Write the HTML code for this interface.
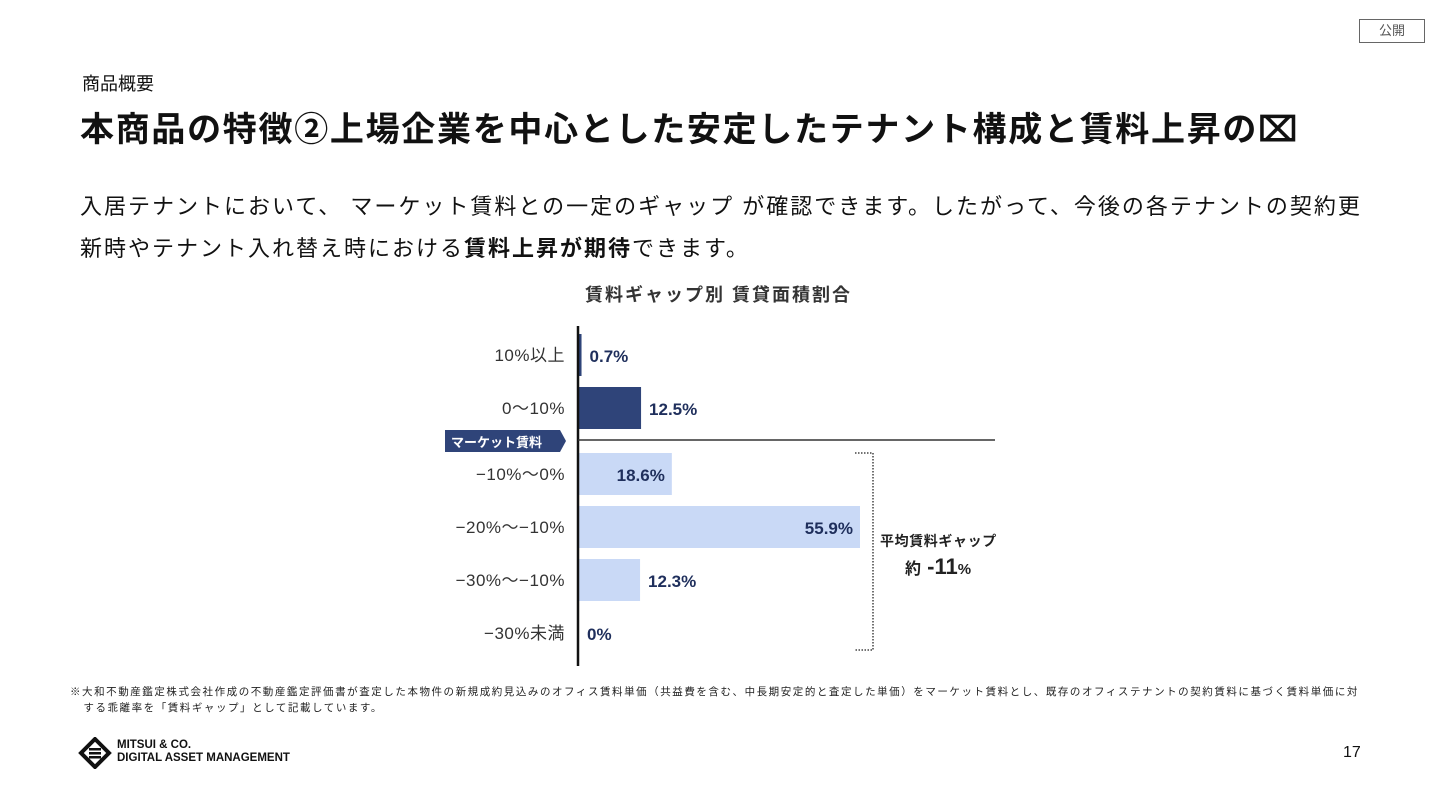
<!DOCTYPE html>
<html><head><meta charset="utf-8">
<style>
body{margin:0;width:1440px;height:810px;background:#fff;font-family:"Liberation Sans","Noto Sans CJK JP",sans-serif;color:#111;position:relative;overflow:hidden}
.a{position:absolute;white-space:nowrap}
</style></head><body>
<div class="a" style="left:1359px;top:19px;width:64px;height:22px;border:1.5px solid #666;font-size:13px;color:#555;text-align:center;line-height:22px">公開</div>
<div class="a" style="left:82px;top:70px;font-size:18px">商品概要</div>
<div class="a" style="left:80px;top:102px;font-size:34px;font-weight:bold;letter-spacing:1.7px">本商品の特徴②上場企業を中心とした安定したテナント構成と賃料上昇の&#x2327;</div>
<div class="a" style="left:80px;top:186px;font-size:22px;line-height:42px;letter-spacing:2px">入居テナントにおいて、 マーケット賃料との一定のギャップ が確認できます。したがって、今後の各テナントの契約更<br>新時やテナント入れ替え時における<b>賃料上昇が期待</b>できます。</div>
<div class="a" style="left:585px;top:281px;font-size:18px;font-weight:bold;color:#333;letter-spacing:2px">賃料ギャップ別 賃貸面積割合</div>
<svg class="a" id="chart" style="left:0;top:0" width="1440" height="810"></svg>
<div class="a" style="left:70px;top:684px;font-size:10.5px;line-height:16px;color:#222;letter-spacing:1.55px">※大和不動産鑑定株式会社作成の不動産鑑定評価書が査定した本物件の新規成約見込みのオフィス賃料単価（共益費を含む、中長期安定的と査定した単価）をマーケット賃料とし、既存のオフィステナントの契約賃料に基づく賃料単価に対<br>&nbsp;&nbsp;&nbsp;する乖離率を「賃料ギャップ」として記載しています。</div>
<svg class="a" style="left:78px;top:737px" width="34" height="32" viewBox="0 0 34 32"><path d="M17 2 L31 16 L17 30 L3 16Z" fill="none" stroke="#111" stroke-width="4"/><rect x="11" y="11" width="12" height="2.5" fill="#111"/><rect x="11" y="15" width="12" height="2.5" fill="#111"/><rect x="11" y="19" width="12" height="2.5" fill="#111"/></svg>
<div class="a" style="left:117px;top:739px;font-size:11.5px;font-weight:bold;line-height:13px">MITSUI &amp; CO.<br>DIGITAL ASSET MANAGEMENT</div>
<div class="a" style="left:1343px;top:744px;font-size:16px">17</div>
<script>
const categories=["10%以上","0〜10%","−10%〜0%","−20%〜−10%","−30%〜−10%","−30%未満"];
const values=[0.7,12.5,18.6,55.9,12.3,0];
const valueLabels=["0.7%","12.5%","18.6%","55.9%","12.3%","0%"];
const rowY=[355,408,474,527,580,633];
const NS="http://www.w3.org/2000/svg";
const svg=document.getElementById('chart');
const x0=578,pxPer=282/55.9;
const xs=v=>x0+v*pxPer;
function mk(t,a){const e=document.createElementNS(NS,t);for(const k in a)e.setAttribute(k,a[k]);svg.appendChild(e);return e;}
categories.forEach((c,i)=>{
  const cy=rowY[i],pos=i<2;
  const w=xs(values[i])-x0;
  if(w>0){const r=mk('rect',{x:x0,y:cy-21,width:w,height:42,fill:pos?'#2f4479':'#c9d9f6'});
  
  }
  const t=mk('text',{x:565,y:cy+6,'text-anchor':'end','font-size':17,fill:'#333','letter-spacing':0.5});t.textContent=c;
  
  
  const inside=values[i]>15;
  const v=mk('text',{x:inside?xs(values[i])-7:Math.max(xs(values[i]),x0+1)+8,y:cy+7,'text-anchor':inside?'end':'start','font-size':17,'font-weight':'bold',fill:'#1f2f5c'});v.textContent=valueLabels[i];
  
  
});
let e;
e=mk('line',{x1:x0,y1:326,x2:x0,y2:666,stroke:'#111','stroke-width':2.5});


e=mk('line',{x1:x0,y1:440,x2:995,y2:440,stroke:'#333','stroke-width':1.5});


e=mk('path',{d:'M445 430 H560 L566 441 L560 452 H445Z',fill:'#2f4479'});


e=mk('text',{x:451,y:447,'font-size':13,'font-weight':'bold',fill:'#fff'});e.textContent='マーケット賃料';


e=mk('path',{d:'M855 453 H873 V650 H855',fill:'none',stroke:'#444','stroke-width':1.5,'stroke-dasharray':'1.5 1.5'});


e=mk('text',{x:880,y:546,'font-size':14,'font-weight':'bold',fill:'#222','letter-spacing':0.6});e.textContent='平均賃料ギャップ';


e=mk('text',{x:905,y:574,'font-size':22,'font-weight':'bold',fill:'#222'});e.innerHTML='<tspan font-size="16">約</tspan> -11<tspan font-size="15">%</tspan>';


</script>
</body></html>
